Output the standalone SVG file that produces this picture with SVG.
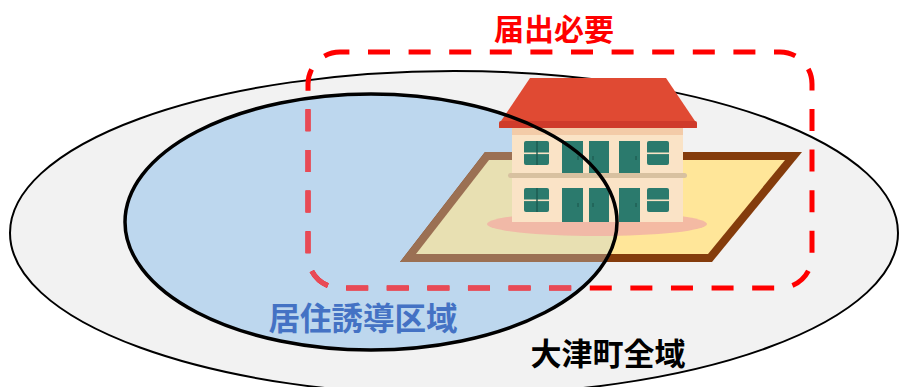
<svg xmlns="http://www.w3.org/2000/svg" width="899" height="387" viewBox="0 0 899 387">
  <defs>
    <style>
      .label { font-family: "Noto Sans CJK JP", "Noto Sans", sans-serif; font-weight: bold; }
      .win { fill: #2b7a6d; }
      .door { fill: #2b7a6d; }
      .knob { stroke: #1d5a50; stroke-width: 1.2; }
      .sash { fill: #fae3c6; }
      .mull { fill: #1d5a50; }
    </style>
    <clipPath id="inner-clip">
      <ellipse cx="371" cy="222" rx="246" ry="128"/>
    </clipPath>
  </defs>

  <rect width="899" height="387" fill="#ffffff"/>

  <!-- whole town -->
  <g id="town-area">
    <ellipse cx="454" cy="233" rx="444" ry="162" fill="#f2f2f2" stroke="#000" stroke-width="2"/>
  </g>

  <!-- guidance area fill -->
  <g id="guidance-area-fill">
    <ellipse cx="371" cy="222" rx="246" ry="128" fill="#bdd7ee"/>
  </g>

  <!-- building site -->
  <g id="site">
    <polygon points="485,152 802,152 712,262 400,262" fill="#843c0c"/>
    <polygon points="489,160 785,160 708,254 416,254" fill="#ffe699"/>
    <g clip-path="url(#inner-clip)">
      <polygon points="485,152 802,152 712,262 400,262" fill="#9b7053"/>
      <polygon points="489,160 785,160 708,254 416,254" fill="#e8e0b2"/>
    </g>
  </g>

  <!-- notification zone -->
  <g id="notice-zone" fill="none" stroke-width="5" stroke-dasharray="22 18.6" stroke-dashoffset="12.6">
    <rect x="308" y="52" width="504" height="236" rx="32" stroke="#ff0000"/>
    <rect x="308" y="52" width="504" height="236" rx="32" stroke="#e84a56" clip-path="url(#inner-clip)"/>
  </g>

  <!-- house -->
  <g id="house">
    <ellipse cx="597" cy="224" rx="110" ry="12" fill="#f2b2a4" opacity="0.85"/>
    <rect x="512" y="128" width="171" height="94" fill="#fae3c6"/>
    <rect x="512" y="128" width="171" height="7" fill="#f3cba8"/>
    <rect x="508" y="173" width="179" height="5" rx="2.5" fill="#d8c1a0"/>
    <!-- roof -->
    <polygon points="530,78 666,78 697,124 697,128 499,128 499,124" fill="#e04a33"/>
    <rect x="499" y="121" width="198" height="7" rx="2" fill="#cf3b2b"/>
    <!-- upper floor -->
    <rect class="win" x="524" y="141" width="25" height="24" rx="2"/>
    <rect class="sash" x="524" y="152.5" width="25" height="1.6"/>
    <rect class="mull" x="536.3" y="141" width="1.4" height="24"/>
    <rect class="door" x="562" y="141" width="21" height="32"/>
    <rect class="door" x="589" y="141" width="20" height="32"/>
    <rect class="door" x="619" y="141" width="21" height="32"/>
    <line class="knob" x1="578" y1="156" x2="578" y2="160"/>
    <line class="knob" x1="593" y1="156" x2="593" y2="160"/>
    <line class="knob" x1="636" y1="156" x2="636" y2="160"/>
    <rect class="win" x="647" y="141" width="22" height="24" rx="2"/>
    <rect class="sash" x="647" y="152.5" width="22" height="1.6"/>
    <!-- lower floor -->
    <rect class="win" x="524" y="188" width="25" height="24" rx="2"/>
    <rect class="sash" x="524" y="199.5" width="25" height="1.6"/>
    <rect class="mull" x="536.3" y="188" width="1.4" height="24"/>
    <rect class="door" x="562" y="188" width="21" height="34"/>
    <rect class="door" x="589" y="188" width="20" height="34"/>
    <rect class="door" x="619" y="188" width="21" height="34"/>
    <line class="knob" x1="578" y1="203" x2="578" y2="207"/>
    <line class="knob" x1="593" y1="203" x2="593" y2="207"/>
    <line class="knob" x1="636" y1="203" x2="636" y2="207"/>
    <rect class="win" x="647" y="188" width="22" height="24" rx="2"/>
    <rect class="sash" x="647" y="199.5" width="22" height="1.6"/>
  </g>

  <!-- guidance area outline -->
  <g id="guidance-area">
    <ellipse cx="371" cy="222" rx="246" ry="128" fill="none" stroke="#000" stroke-width="3.5"/>
  </g>

  <!-- labels -->
  <g id="labels">
    <text class="label" x="554" y="40" font-size="30" fill="#ff0000" text-anchor="middle">届出必要</text>
    <text class="label" x="363" y="330" font-size="31.5" fill="#4472c4" text-anchor="middle">居住誘導区域</text>
    <text class="label" x="608" y="365" font-size="31" fill="#000000" text-anchor="middle">大津町全域</text>
  </g>
</svg>
